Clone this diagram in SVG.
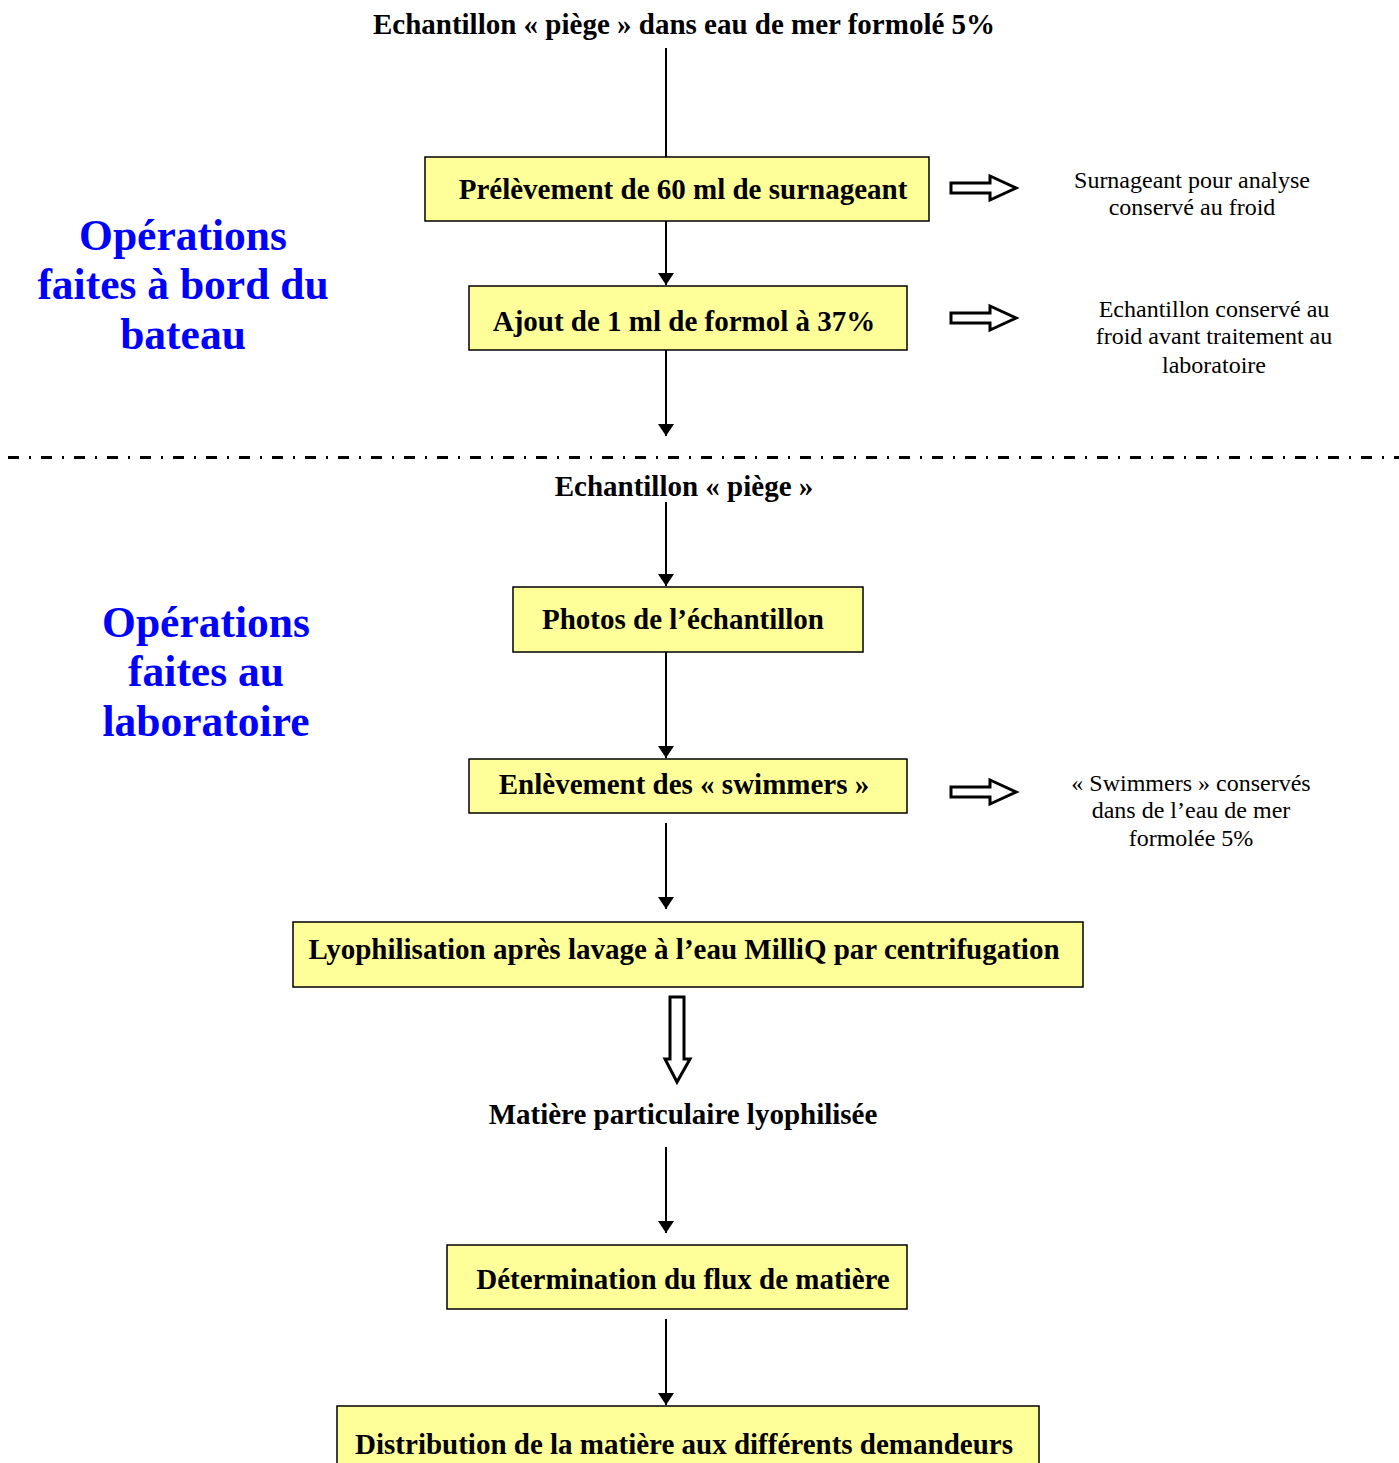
<svg xmlns="http://www.w3.org/2000/svg" width="1399" height="1463" viewBox="0 0 1399 1463">
<style>
.box{fill:#FFFF99;stroke:#000;stroke-width:1.5}
.bt{font-family:"Liberation Serif",serif;font-weight:bold;font-size:29px;text-anchor:middle;fill:#000}
.st{font-family:"Liberation Serif",serif;font-size:24px;text-anchor:middle;fill:#000}
.bl{font-family:"Liberation Serif",serif;font-weight:bold;font-size:43.5px;text-anchor:middle;fill:#0000FF}
.ln{stroke:#000;stroke-width:2;fill:none}
.ha{fill:#fff;stroke:#000;stroke-width:3;stroke-linejoin:miter}
</style>
<defs>
<marker id="ah" viewBox="0 0 12 16" refX="12" refY="8" markerWidth="12" markerHeight="16" markerUnits="userSpaceOnUse" orient="auto">
<path d="M0,0 L12,8 L0,16 Z" fill="#000"/>
</marker>
</defs>
<rect width="1399" height="1463" fill="#fff"/>

<g id="labels">
<text class="bt" x="684" y="34">Echantillon « piège » dans eau de mer formolé 5%</text>
<text class="bl" x="183" y="250">Opérations</text>
<text class="bl" x="183" y="299">faites à bord du</text>
<text class="bl" x="183" y="349">bateau</text>
<text class="bt" x="684" y="496">Echantillon « piège »</text>
<text class="bl" x="206" y="637">Opérations</text>
<text class="bl" x="206" y="686">faites au</text>
<text class="bl" x="206" y="736">laboratoire</text>
<text class="bt" x="683" y="1124">Matière particulaire lyophilisée</text>
</g>

<g id="notes">
<text class="st" x="1192" y="188">Surnageant pour analyse</text>
<text class="st" x="1192" y="215">conservé au froid</text>
<text class="st" x="1214" y="317">Echantillon conservé au</text>
<text class="st" x="1214" y="344">froid avant traitement au</text>
<text class="st" x="1214" y="373">laboratoire</text>
<text class="st" x="1191" y="791">« Swimmers » conservés</text>
<text class="st" x="1191" y="818">dans de l’eau de mer</text>
<text class="st" x="1191" y="846">formolée 5%</text>
</g>

<g id="connectors">
<line class="ln" x1="666" y1="48" x2="666" y2="157"/>
<line class="ln" x1="666" y1="221" x2="666" y2="285" marker-end="url(#ah)"/>
<line class="ln" x1="666" y1="350" x2="666" y2="436" marker-end="url(#ah)"/>
<line class="ln" x1="666" y1="502" x2="666" y2="586" marker-end="url(#ah)"/>
<line class="ln" x1="666" y1="652" x2="666" y2="758" marker-end="url(#ah)"/>
<line class="ln" x1="666" y1="823" x2="666" y2="909" marker-end="url(#ah)"/>
<line class="ln" x1="666" y1="1147" x2="666" y2="1233" marker-end="url(#ah)"/>
<line class="ln" x1="666" y1="1319" x2="666" y2="1405" marker-end="url(#ah)"/>
<path class="ha" d="M951,183 L990,183 L990,176 L1016,188 L990,200 L990,193 L951,193 Z"/>
<path class="ha" d="M951,313 L990,313 L990,306 L1016,318 L990,330 L990,323 L951,323 Z"/>
<path class="ha" d="M951,787 L990,787 L990,780 L1016,792 L990,804 L990,797 L951,797 Z"/>
<path class="ha" d="M670,997 L684,997 L684,1059 L690,1059 L677,1082 L665,1059 L670,1059 Z"/>
<line x1="8" y1="457.5" x2="1399" y2="457.5" stroke="#000" stroke-width="3" stroke-dasharray="11 10 2 10"/>
</g>

<g id="n1"><rect class="box" x="425" y="157" width="504" height="64"/><text class="bt" x="683" y="199">Prélèvement de 60 ml de surnageant</text></g>
<g id="n2"><rect class="box" x="469" y="286" width="438" height="64"/><text class="bt" x="684" y="331">Ajout de 1 ml de formol à 37%</text></g>
<g id="n3"><rect class="box" x="513" y="587" width="350" height="65"/><text class="bt" x="683" y="629">Photos de l’échantillon</text></g>
<g id="n4"><rect class="box" x="469" y="759" width="438" height="54"/><text class="bt" x="684" y="794">Enlèvement des « swimmers »</text></g>
<g id="n5"><rect class="box" x="293" y="922" width="790" height="65"/><text class="bt" x="684" y="959">Lyophilisation après lavage à l’eau MilliQ par centrifugation</text></g>
<g id="n6"><rect class="box" x="447" y="1245" width="460" height="64"/><text class="bt" x="683" y="1289">Détermination du flux de matière</text></g>
<g id="n7"><rect class="box" x="337" y="1406" width="702" height="70"/><text class="bt" x="684" y="1454">Distribution de la matière aux différents demandeurs</text></g>
</svg>
